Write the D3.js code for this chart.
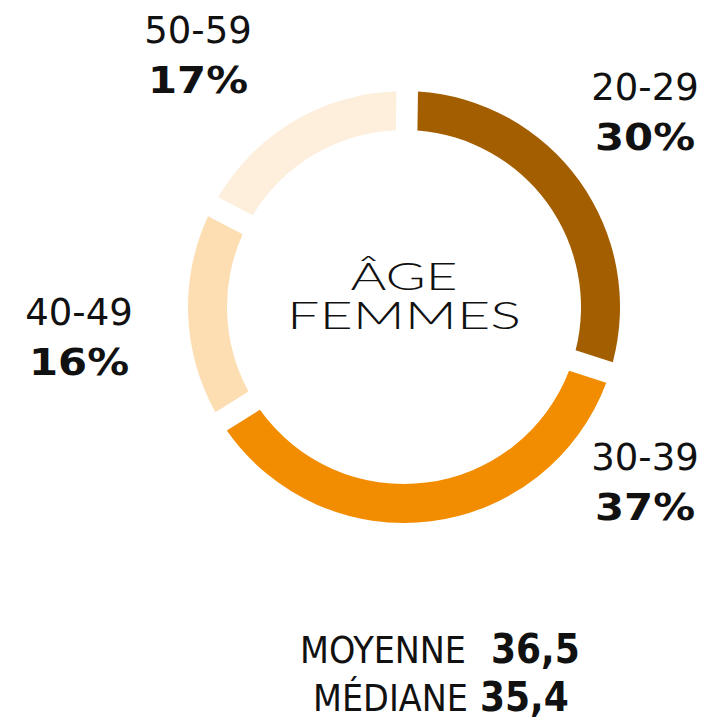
<!DOCTYPE html>
<html><head><meta charset="utf-8">
<script src="https://cdn.jsdelivr.net/npm/d3@7"></script>
<style>html,body{margin:0;padding:0;background:#fff;}</style>
</head><body>
<svg id="chart" width="714" height="721"></svg>
<script>
const categories = ["20-29", "30-39", "40-49", "50-59"];
const values = [30, 37, 16, 17];
const colors = ["#A35E00", "#F28C00", "#FDDEB3", "#FEEEDC"];
const centerTitle = ["ÂGE", "FEMMES"];
const statLabels = ["MOYENNE", "MÉDIANE"];
const statValues = ["36,5", "35,4"];

// layout only
const labelPos = [[645, 100], [645, 470], [79, 325], [198, 43]];
const titleWidths = [107, 234];
const statLayout = [{y: 663, labelEnd: 466, labelW: 166, valueStart: 491},
                    {y: 711, labelEnd: 468, labelW: 155, valueStart: 480}];

const svg = d3.select("#chart");
const cx = 404, cy = 307;
const g = svg.append("g").attr("transform", `translate(${cx},${cy})`);

const pie = d3.pie().sort(null).value(d => d).padAngle(0.105)
  .startAngle(0.015).endAngle(2 * Math.PI + 0.015);
const arc = d3.arc().innerRadius(177).outerRadius(216).padRadius(205);

g.selectAll("path").data(pie(values)).join("path")
  .attr("d", arc).attr("fill", (d, i) => colors[i]);

// center title
g.selectAll("text.title").data(centerTitle).join("text")
  .attr("class", "title")
  .attr("x", 0).attr("y", (d, i) => -17 + i * 39)
  .attr("text-anchor", "middle")
  .attr("font-family", "Lato, 'Open Sans', sans-serif")
  .attr("font-weight", 300)
  .attr("font-size", 37)
  .attr("textLength", (d, i) => titleWidths[i])
  .attr("lengthAdjust", "spacingAndGlyphs")
  .attr("fill", "#111")
  .text(d => d);

// category labels
const lab = svg.selectAll("g.lab").data(categories).join("g").attr("class", "lab")
  .attr("transform", (d, i) => `translate(${labelPos[i][0]},${labelPos[i][1]})`);
lab.append("text").attr("text-anchor", "middle")
  .attr("font-family", "'DejaVu Sans', sans-serif")
  .attr("font-size", 37).attr("fill", "#111").text(d => d);
lab.append("text").attr("text-anchor", "middle").attr("y", 50)
  .attr("font-family", "'DejaVu Sans', sans-serif")
  .attr("font-weight", "bold")
  .attr("font-size", 38)
  .attr("textLength", 100).attr("lengthAdjust", "spacingAndGlyphs")
  .attr("fill", "#111").text((d, i) => values[i] + "%");

// stats
const st = svg.selectAll("g.stat").data(statLabels).join("g").attr("class", "stat")
  .attr("transform", (d, i) => `translate(0,${statLayout[i].y})`);
st.append("text").attr("text-anchor", "end")
  .attr("x", (d, i) => statLayout[i].labelEnd)
  .attr("font-family", "'DejaVu Sans Condensed', 'DejaVu Sans', sans-serif")
  .attr("font-size", 38).attr("fill", "#111")
  .attr("textLength", (d, i) => statLayout[i].labelW)
  .attr("lengthAdjust", "spacingAndGlyphs")
  .text(d => d);
st.append("text").attr("text-anchor", "start")
  .attr("x", (d, i) => statLayout[i].valueStart)
  .attr("font-family", "'DejaVu Sans Condensed', sans-serif")
  .attr("font-weight", "bold").attr("font-size", 40).attr("fill", "#111")
  .text((d, i) => statValues[i]);
</script>
</body></html>
